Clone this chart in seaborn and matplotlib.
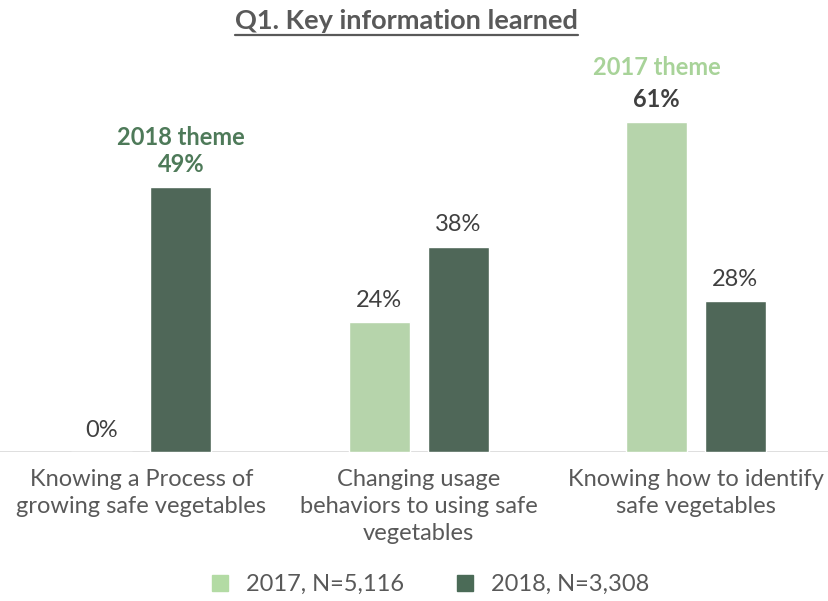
import pandas as pd
import seaborn as sns
import matplotlib.pyplot as plt
from matplotlib.lines import Line2D

# data
categories = ['Knowing a Process of\ngrowing safe vegetables',
              'Changing usage\nbehaviors to using safe\nvegetables',
              'Knowing how to identify\nsafe vegetables']
years = ['2017, N=5,116', '2018, N=3,308']
v2017 = [0, 24, 61]
v2018 = [49, 38, 28]

light = '#b3dba4'
dark = '#4b6b57'
grey = '#595959'

df = pd.DataFrame({
    'item': categories * 2,
    'year': [years[0]] * 3 + [years[1]] * 3,
    'pct': v2017 + v2018,
})

sns.set_theme(style='white')
plt.rcParams['font.family'] = ['Lato', 'DejaVu Sans']

fig = plt.figure(figsize=(8.29, 6.01), dpi=100)
ax = fig.add_axes([0.0, 0.248, 1.0, 0.652])

sns.barplot(data=df, x='item', y='pct', hue='year', palette=[light, dark],
            width=0.57, gap=0.23, ax=ax)

ax.set_xlim(-0.51, 2.48)
ax.set_ylim(0, 72.5)
ax.set_xlabel('')
ax.set_ylabel('')
ax.set_yticks([])
for s in ax.spines.values():
    s.set_visible(False)
ax.axhline(0, color='#d9d9d9', lw=1.2, zorder=0)
ax.tick_params(axis='x', length=0, pad=12, labelsize=17, labelcolor=grey)
for t in ax.get_xticklabels():
    t.set_linespacing(1.35)

# value labels
vals = [v2017, v2018]
for ci, cont in enumerate(ax.containers):
    for i, bar in enumerate(cont):
        v = vals[ci][i]
        x = bar.get_x() + bar.get_width() / 2
        h = bar.get_height()
        if ci == 1 and i == 0:
            ax.annotate('2018 theme\n49%', (x, h), xytext=(0, 8), textcoords='offset points',
                        ha='center', va='bottom', fontsize=17, fontweight='bold',
                        color='#4e7a59', linespacing=1.2, annotation_clip=False)
        elif ci == 0 and i == 2:
            ax.annotate(f'{v}%', (x, h), xytext=(0, 8), textcoords='offset points',
                        ha='center', va='bottom', fontsize=17, fontweight='bold',
                        color='#404040', annotation_clip=False)
            ax.annotate('2017 theme', (x, h), xytext=(0, 31), textcoords='offset points',
                        ha='center', va='bottom', fontsize=17, fontweight='bold',
                        color='#a8d399', annotation_clip=False)
        else:
            ax.annotate(f'{v}%', (x, h), xytext=(0, 8), textcoords='offset points',
                        ha='center', va='bottom', fontsize=17, color='#404040',
                        annotation_clip=False)

# legend at the bottom
handles = [Line2D([], [], marker='s', ls='', color=c, markersize=11) for c in [light, dark]]
ax.legend(handles, years, loc='center', bbox_to_anchor=(0.51, 0.027),
          bbox_transform=fig.transFigure, ncol=2, frameon=False, fontsize=17,
          labelcolor=grey, handletextpad=0.1, columnspacing=1.6)

# underlined title
title = fig.text(0.49, 0.965, 'Q1. Key information learned', ha='center', va='center',
                 fontsize=19.5, fontweight='bold', color=grey)
fig.canvas.draw()
bb = title.get_window_extent().transformed(fig.transFigure.inverted())
fig.add_artist(Line2D([bb.x0, bb.x1], [bb.y0 - 0.003, bb.y0 - 0.003],
                      transform=fig.transFigure, color=grey, lw=1.6))

fig.savefig('out.png', dpi=100)
